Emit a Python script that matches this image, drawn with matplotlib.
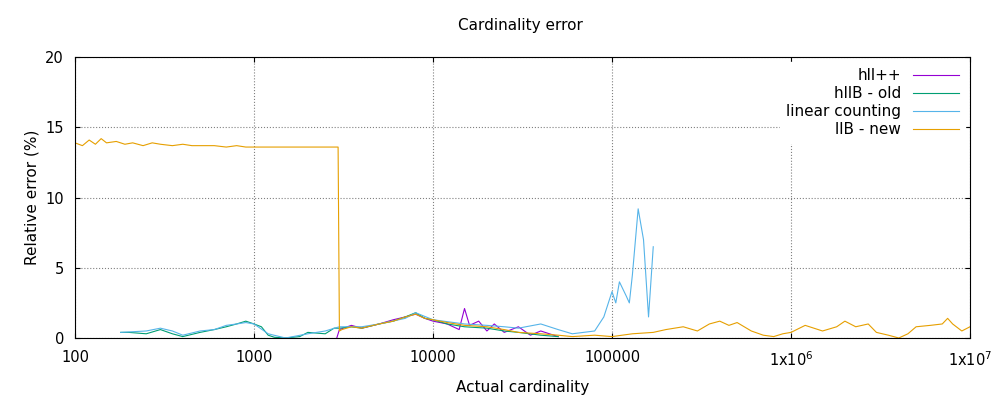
import matplotlib.pyplot as plt
from matplotlib.ticker import FixedLocator, NullLocator

# llB - new
new_x = [100, 110, 120, 130, 140, 150, 170, 190, 210, 240, 270, 300, 350, 400, 450, 500, 600, 700,
         800, 900, 1000, 1200, 1500, 1800, 2200, 2600, 2950, 3000, 3100, 3500, 4000, 5000, 6000,
         7000, 8000, 9000, 10000, 12000, 15000, 20000, 25000, 30000, 40000, 50000, 60000, 80000,
         100000, 130000, 170000, 200000, 250000, 300000, 350000, 400000, 450000, 500000, 600000,
         700000, 800000, 900000, 1e6, 1.2e6, 1.5e6, 1.8e6, 2e6, 2.3e6, 2.7e6, 3e6, 3.5e6, 4e6,
         4.5e6, 5e6, 6e6, 7e6, 7.5e6, 8e6, 9e6, 1e7]
new_y = [13.9, 13.7, 14.1, 13.8, 14.2, 13.9, 14.0, 13.8, 13.9, 13.7, 13.9, 13.8, 13.7, 13.8, 13.7,
         13.7, 13.7, 13.6, 13.7, 13.6, 13.6, 13.6, 13.6, 13.6, 13.6, 13.6, 13.6, 0.5, 0.6, 0.8,
         0.7, 1.0, 1.2, 1.5, 1.7, 1.4, 1.3, 1.1, 0.9, 0.8, 0.6, 0.4, 0.3, 0.2, 0.1, 0.2, 0.1, 0.3,
         0.4, 0.6, 0.8, 0.5, 1.0, 1.2, 0.9, 1.1, 0.5, 0.2, 0.1, 0.3, 0.4, 0.9, 0.5, 0.8, 1.2, 0.8,
         1.0, 0.4, 0.2, 0.0, 0.3, 0.8, 0.9, 1.0, 1.4, 1.0, 0.5, 0.8]

# hllB - old
old_x = [180, 200, 250, 300, 350, 400, 500, 600, 700, 800, 900, 1000, 1100, 1200, 1300, 1500, 1800,
         2000, 2500, 2800, 3000, 3500, 4000, 5000, 6000, 7000, 8000, 9000, 10000, 12000, 15000,
         20000, 25000, 30000, 40000, 50000]
old_y = [0.4, 0.4, 0.3, 0.6, 0.3, 0.1, 0.4, 0.6, 0.8, 1.0, 1.2, 1.0, 0.8, 0.2, 0.05, 0.0, 0.1,
         0.4, 0.3, 0.7, 0.7, 0.8, 0.7, 1.0, 1.2, 1.5, 1.8, 1.4, 1.3, 1.0, 0.8, 0.7, 0.5, 0.4, 0.2,
         0.1]

# hll++
hll_x = [2900, 3000, 3500, 4000, 5000, 6000, 7000, 8000, 9000, 10000, 12000, 14000, 15000, 16000,
         18000, 20000, 22000, 25000, 30000, 35000, 40000, 50000]
hll_y = [0.0, 0.6, 0.9, 0.7, 1.0, 1.3, 1.5, 1.7, 1.4, 1.2, 1.0, 0.6, 2.1, 0.9, 1.2, 0.5, 1.0, 0.4,
         0.8, 0.2, 0.5, 0.1]

# linear counting
lin_x = [180, 250, 300, 350, 400, 500, 600, 700, 800, 900, 1000, 1200, 1500, 2000, 2500, 3000,
         4000, 5000, 7000, 8000, 10000, 15000, 20000, 25000, 30000, 40000, 50000, 60000, 80000,
         90000, 100000, 105000, 110000, 120000, 125000, 130000, 140000, 150000, 160000, 170000]
lin_y = [0.4, 0.5, 0.7, 0.5, 0.2, 0.5, 0.6, 0.9, 1.0, 1.1, 1.0, 0.3, 0.0, 0.3, 0.5, 0.8, 0.8,
         1.0, 1.4, 1.8, 1.3, 1.0, 0.9, 0.8, 0.7, 1.0, 0.6, 0.3, 0.5, 1.5, 3.3, 2.5, 4.0, 3.0, 2.5,
         4.5, 9.2, 7.0, 1.5, 6.5]

fig = plt.figure(figsize=(10, 4), dpi=100)
ax = fig.add_axes([0.075, 0.155, 0.895, 0.702])
ax.plot(hll_x, hll_y, color='#9400d3', lw=0.8, label='hll++')
ax.plot(old_x, old_y, color='#009e73', lw=0.8, label='hllB - old')
ax.plot(lin_x, lin_y, color='#56b4e9', lw=0.8, label='linear counting')
ax.plot(new_x, new_y, color='#e69f00', lw=0.8, label='llB - new')

ax.set_xscale('log')
ax.set_xlim(100, 1e7)
ax.set_ylim(0, 20)
ax.xaxis.set_major_locator(FixedLocator([100, 1000, 10000, 100000, 1e6, 1e7]))
ax.xaxis.set_minor_locator(NullLocator())
ax.set_xticklabels(['100', '1000', '10000', '100000', r'1x10$^6$', r'1x10$^7$'])
ax.set_yticks([0, 5, 10, 15, 20])
ax.grid(True, color='gray', ls=':', lw=0.8)
ax.tick_params(direction='in', labelsize=10.5, top=True, right=True)
ax.tick_params(axis='x', pad=9)
ax.tick_params(axis='y', pad=8)
ax.set_xlabel('Actual cardinality', fontsize=11, labelpad=8)
ax.set_ylabel('Relative error (%)', fontsize=11)
fig.text(0.52, 0.925, 'Cardinality error', ha='center', fontsize=11)
leg = ax.legend(loc='upper right', frameon=True, fancybox=False, edgecolor='white',
                framealpha=1, markerfirst=False, fontsize=11, handlelength=3,
                borderaxespad=0.3, labelspacing=0.2)
for t in leg.get_texts():
    t.set_ha('right')
fig.savefig('out.png', dpi=100)
